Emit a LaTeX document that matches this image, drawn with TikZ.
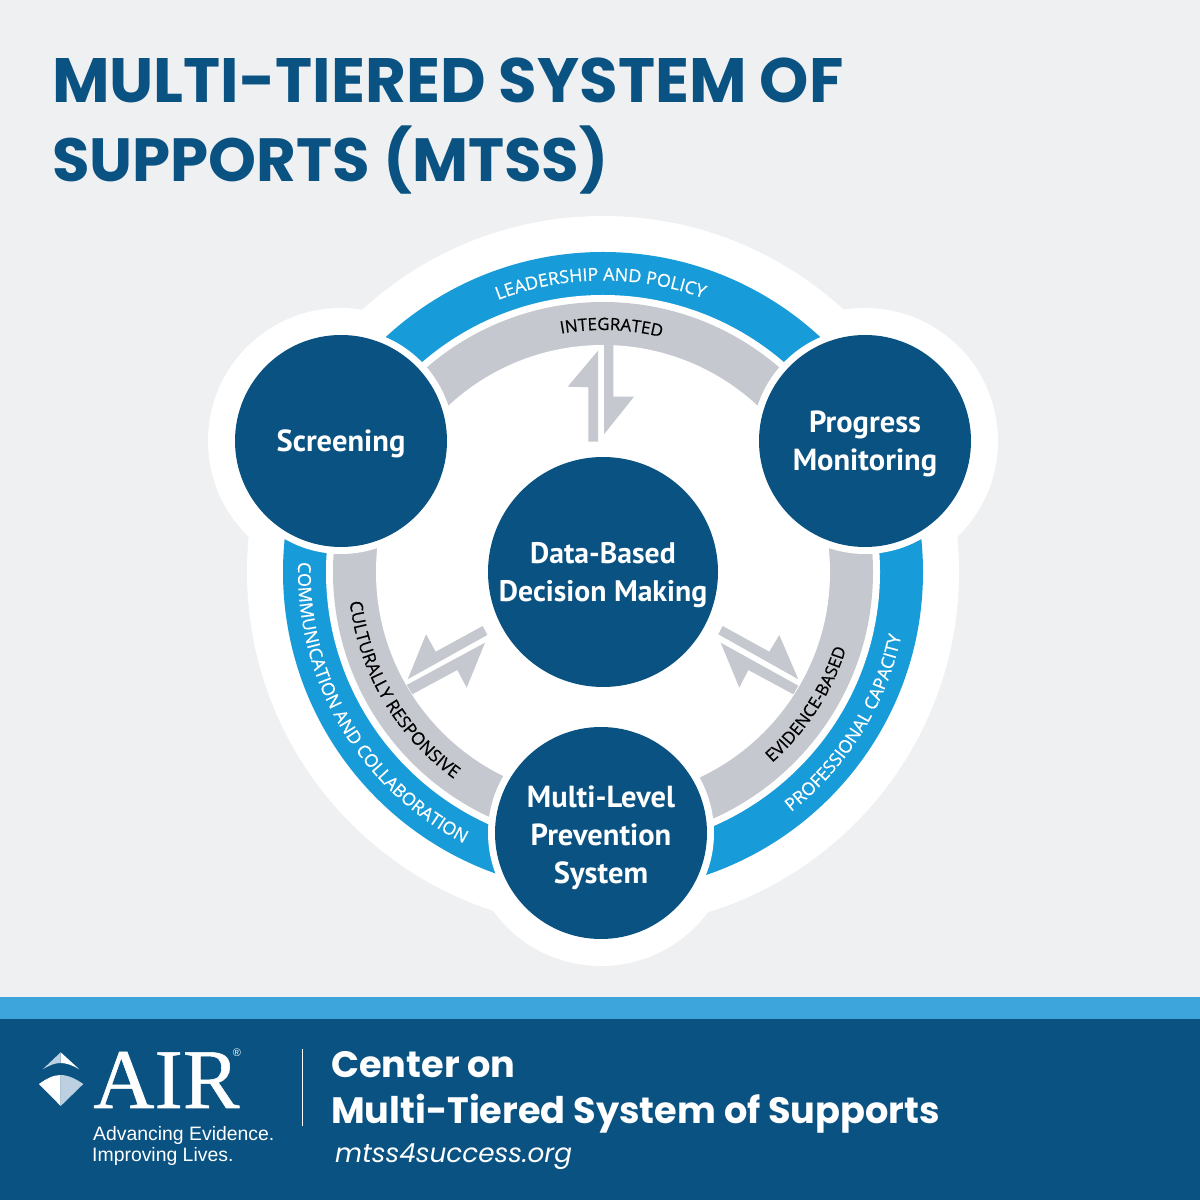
\documentclass[tikz,border=0pt]{standalone}
\usepackage{fontspec}
\usetikzlibrary{decorations.text}
\setmainfont{Open Sans}
\newfontfamily\ringfont[FakeBold=0.5]{Open Sans}
\newfontfamily\popfont{Poppins}
\newfontfamily\ptfont{PT Sans}
\newfontfamily\airfont[FakeBold=0.6]{Liberation Serif}
\newfontfamily\tagfont{Liberation Sans}
\definecolor{bgc}{HTML}{EFF0F2}
\definecolor{navy}{HTML}{0A5282}
\definecolor{ringblue}{HTML}{189CD9}
\definecolor{ringgrey}{HTML}{C5C9CF}
\definecolor{stripe}{HTML}{3EA5DC}
\definecolor{logolight}{HTML}{BCD0E2}
\tikzset{
  halo/.style={circle,fill=white,draw=none,minimum size=226pt,inner sep=0pt},
  backing/.style={circle,fill=white,draw=none,minimum size=266pt,inner sep=0pt},
  disc/.style={circle,fill=navy,draw=none,minimum size=212pt,inner sep=0pt},
  disctext/.style={inner sep=0pt,text=white,align=center,
     font=\ptfont\bfseries\fontsize{30.5}{38}\selectfont},
  bolt/.style={fill=ringgrey,draw=none},
  titletext/.style={anchor=base west,inner sep=0pt,text=navy,font=\popfont\bfseries\fontsize{62.7}{62.7}\selectfont},
  foottext/.style={anchor=base west,inner sep=0pt,text=white,font=\popfont\bfseries\fontsize{36.7}{36.7}\selectfont},
  tagtext/.style={anchor=base west,inner sep=0pt,text=white,font=\tagfont\fontsize{19.4}{19.4}\selectfont},
}
\begin{document}
\begin{tikzpicture}[x=1pt,y=1pt]
\useasboundingbox (0,0) rectangle (1200,1200);
\fill[bgc] (0,0) rectangle (1200,1200);
\coordinate (c) at (603,628);
% white backing
\fill[white] (c) circle (356);
\node[backing] (bs) at (341,759) {};
\node[backing] (bp) at (865,759) {};
\node[backing] (bm) at (601,367) {};
% rings
\fill[ringblue] (c) circle (320);
\fill[white] (c) circle (277);
\fill[ringgrey] (c) circle (270);
\fill[white] (c) circle (227);
% bolts
\fill[bolt] (598,849.3) -- (567.7,813.3) -- (588.3,812.7) -- (588.3,758.3) -- (598,758.3) -- cycle;
\fill[bolt] (604,856) -- (613.3,856) -- (613.3,803.3) -- (634,803.3) -- (604,765.7) -- cycle;
\fill[bolt] (407.7,520.7) -- (426,565.7) -- (435.7,548.3) -- (482.7,574) -- (487.3,565) -- cycle;
\fill[bolt] (485,557.3) -- (466.7,512.3) -- (457.3,530) -- (412.3,505.7) -- (406.7,515) -- cycle;
\fill[bolt] (718.3,565.7) -- (722.7,574) -- (769.3,548.3) -- (779.3,565) -- (798.3,520.7) -- cycle;
\fill[bolt] (720.7,557.3) -- (739.3,512.3) -- (748.3,530) -- (793.3,505.7) -- (798.3,514.3) -- cycle;
% ring texts
\path[decorate,decoration={text along path,text align=center,text={|\ringfont\fontsize{17.8}{18}\selectfont\color{white}|LEADERSHIP AND POLICY}}]
  (c) ++(125.5:291.5) arc (125.5:55.5:291.5);
\path[decorate,decoration={text along path,text align=center,text={|\ringfont\fontsize{17}{17}\selectfont\color{black}|INTEGRATED}}]
  (c) ++(123:242) arc (123:53:242);
\path[decorate,decoration={text along path,text align=center,text={|\ringfont\fontsize{17.8}{18}\selectfont\color{white}|COMMUNICATION AND COLLABORATION}}]
  (c) ++(160.5:305) arc (160.5:260.5:305);
\path[decorate,decoration={text along path,text align=center,text={|\ringfont\fontsize{17.5}{17}\selectfont\color{black}|CULTURALLY RESPONSIVE}}]
  (c) ++(165:255) arc (165:256:255);
\path[decorate,decoration={text along path,text align=center,text={|\ringfont\fontsize{17}{17}\selectfont\color{black}|EVIDENCE-BASED}}]
  (c) ++(-63:255) arc (-63:-3:255);
\path[decorate,decoration={text along path,text align=center,text={|\ringfont\fontsize{17.8}{18}\selectfont\color{white}|PROFESSIONAL CAPACITY}}]
  (c) ++(-67:305) arc (-67:3:305);
% circles
\node[halo] (hs) at (341,759) {};
\node[halo] (hp) at (865,759) {};
\node[halo] (hm) at (601,367) {};
\node[disc] (screen) at (341,759) {};
\node[disc] (prog) at (865,759) {};
\node[disc] (multi) at (601,367) {};
\node[disc,minimum size=230pt] (data) at (603,628) {};
\node[disctext] (screenlabel) at (341,756) {Screening};
\node[disctext] (proglabel) at (865,756) {Progress\\Monitoring};
\node[disctext] (multilabel) at (601,362) {Multi-Level\\Prevention\\System};
\node[disctext,font=\ptfont\bfseries\fontsize{29.7}{38}\selectfont] (datalabel) at (603,625) {Data-Based\\Decision Making};
% title
\node[titletext] (t1) at (52,1097) {MULTI-TIERED SYSTEM OF};
\node[titletext,font=\popfont\bfseries\fontsize{61}{61}\selectfont] (t2) at (52,1018) {SUPPORTS (MTSS)};
% footer
\fill[stripe] (0,181) rectangle (1200,203);
\fill[navy] (0,0) rectangle (1200,181);
\fill[white] (60.7,147.7) -- (79.3,130.7) .. controls (72,135) and (66,137) .. (60.7,137) -- cycle;
\fill[logolight] (60.7,147.7) -- (42.7,130.7) .. controls (50,135) and (55,137) .. (60.7,137) -- cycle;
\fill[white] (39,116) .. controls (46,121) and (53,125) .. (60.7,125) -- (60.7,94) -- cycle;
\fill[logolight] (83.3,116) .. controls (76,121) and (68,125) .. (60.7,125) -- (60.7,94) -- cycle;
\node[anchor=base west,inner sep=0pt,text=white,font=\airfont\fontsize{85}{85}\selectfont] (air) at (93,92) {AIR};
\node[anchor=center,inner sep=0pt,text=white,font=\tagfont\fontsize{11}{11}\selectfont] (reg) at (237,147) {®};
\node[tagtext] (tag1) at (93,59) {Advancing Evidence.};
\node[tagtext] (tag2) at (92,38) {Improving Lives.};
\draw[white,line width=0.8pt] (302.7,151) -- (302.7,74);
\node[foottext] (f1) at (331,122) {Center on};
\node[foottext] (f2) at (331,76) {Multi-Tiered System of Supports};
\node[anchor=base west,inner sep=0pt,text=white,font=\popfont\itshape\fontsize{26.3}{26.3}\selectfont] (f3) at (335,37) {mtss4success.org};
\end{tikzpicture}
\end{document}
